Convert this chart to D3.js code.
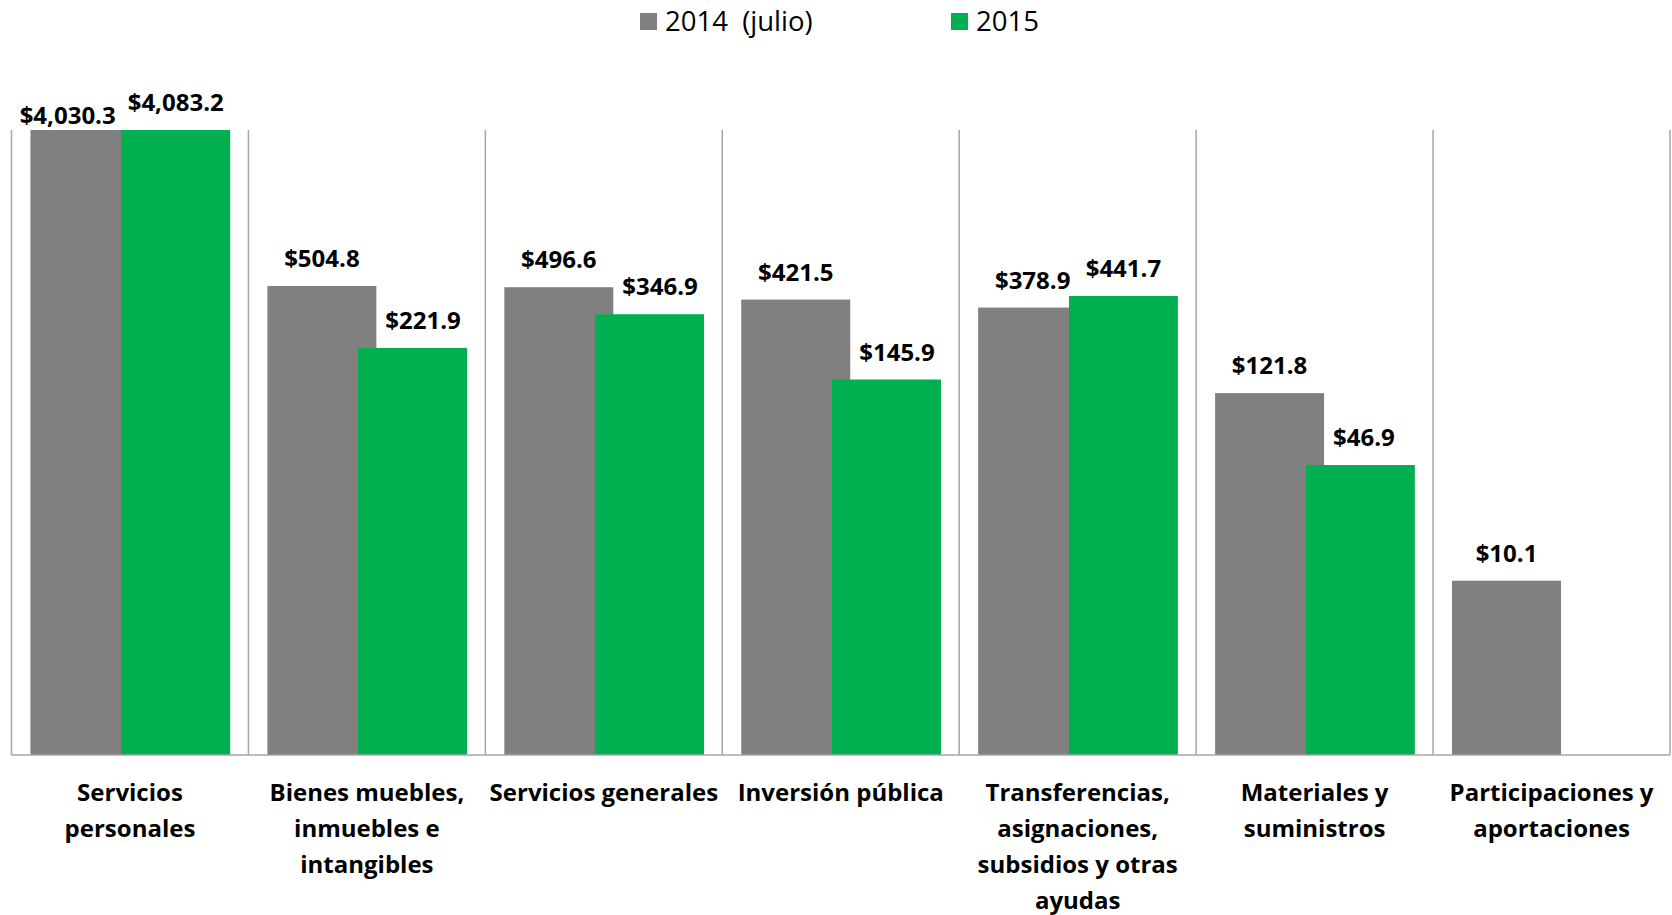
<!DOCTYPE html>
<html>
<head>
<meta charset="utf-8">
<script src="https://cdn.jsdelivr.net/npm/d3@7/dist/d3.min.js"></script>
<style>
  html, body { margin: 0; padding: 0; background: #fff; }
  svg { display: block; }
  text { font-family: "Open Sans", Lato, sans-serif; fill: #000; }
</style>
</head>
<body>
<div id="chart"></div>
<script>
// ── Data ──────────────────────────────────────────────────────────────
var categories = [
    'Servicios personales',
    'Bienes muebles, inmuebles e intangibles',
    'Servicios generales',
    'Inversión pública',
    'Transferencias, asignaciones, subsidios y otras ayudas',
    'Materiales y suministros',
    'Participaciones y aportaciones'
];
var categoryLines = [
    ['Servicios', 'personales'],
    ['Bienes muebles,', 'inmuebles e', 'intangibles'],
    ['Servicios generales'],
    ['Inversión pública'],
    ['Transferencias,', 'asignaciones,', 'subsidios y otras', 'ayudas'],
    ['Materiales y', 'suministros'],
    ['Participaciones y', 'aportaciones']
];
var seriesNames = ['2014  (julio)', '2015'];
var values2014 = [4030.3, 504.8, 496.6, 421.5, 378.9, 121.8, 10.1];
var values2015 = [4083.2, 221.9, 346.9, 145.9, 441.7, 46.9, null];
var seriesColors = ['#808080', '#00b050'];

// ── Layout ────────────────────────────────────────────────────────────
var width = 1672, height = 915;
var plot = { left: 11.5, right: 1670, top: 130, bottom: 755 };

var svg = d3.select('#chart').append('svg')
    .attr('width', width).attr('height', height);

var x = d3.scaleBand()
    .domain(categories)
    .range([plot.left, plot.right])
    .padding(0);

var y = d3.scaleLog()
    .domain([1, 4000])
    .range([plot.bottom, plot.top])
    .clamp(true);

var band = x.bandwidth();
var barW = band * 0.46;
var gapOut = band * 0.08;
var overlap = band * 0.077;

function barX(cat, s) {
    return x(cat) + gapOut + s * (barW - overlap);
}

// vertical gridlines between categories
var bounds = categories.map(function (c) { return x(c); }).concat([plot.right]);
svg.append('g').selectAll('line')
    .data(bounds)
    .enter().append('line')
    .attr('x1', function (d) { return d; }).attr('x2', function (d) { return d; })
    .attr('y1', plot.top).attr('y2', plot.bottom)
    .attr('stroke', '#a6a6a6').attr('stroke-width', 1.5);

// bars
var series = [values2014, values2015];
series.forEach(function (vals, s) {
    svg.append('g').selectAll('rect')
        .data(categories.map(function (c, i) { return { cat: c, v: vals[i] }; })
            .filter(function (d) { return d.v != null; }))
        .enter().append('rect')
        .attr('x', function (d) { return barX(d.cat, s); })
        .attr('y', function (d) { return y(d.v); })
        .attr('width', barW)
        .attr('height', function (d) { return plot.bottom - y(d.v); })
        .attr('fill', seriesColors[s]);
});

// bottom axis line
svg.append('line')
    .attr('x1', plot.left).attr('x2', plot.right)
    .attr('y1', plot.bottom).attr('y2', plot.bottom)
    .attr('stroke', '#a6a6a6').attr('stroke-width', 1.5);

// value labels
var fmt = d3.format(',.1f');
var labelG = svg.append('g')
    .style('font-size', '24px').style('font-weight', 700);

categories.forEach(function (c, i) {
    var v0 = values2014[i], v1 = values2015[i];
    var grayX = barX(c, 0), greenX = barX(c, 1);
    var t0 = labelG.append('text')
        .attr('text-anchor', 'start')
        .text('$' + fmt(v0));
    var w0 = t0.node().getComputedTextLength();
    var x0 = grayX + barW / 2 - w0 / 2, y0 = y(v0) - 19;
    var x1 = null, y1 = null, t1 = null, w1 = 0;
    if (v1 != null) {
        t1 = labelG.append('text').attr('text-anchor', 'start').text('$' + fmt(v1));
        w1 = t1.node().getComputedTextLength();
        x1 = greenX + barW / 2 - w1 / 2;
        y1 = y(v1) - 19;
        // keep green label clear of a taller gray bar
        if (y1 > y(v0) - 4) x1 = Math.max(x1, greenX + overlap + 9);
        // if both labels collide, push the gray one left and down
        if (Math.abs(y1 - y0) < 26 && x0 + w0 + 8 > x1) {
            x0 = x1 - w0 - 12;
            y0 = y0 + 13;
        }
        t1.attr('x', x1).attr('y', y1);
    }
    t0.attr('x', x0).attr('y', y0);
});

// category labels
var catG = svg.append('g')
    .style('font-size', '24px').style('font-weight', 700)
    .attr('text-anchor', 'middle');
categories.forEach(function (c, i) {
    var t = catG.append('text')
        .attr('x', x(c) + band / 2)
        .attr('y', 801);
    categoryLines[i].forEach(function (line, k) {
        t.append('tspan')
            .attr('x', x(c) + band / 2)
            .attr('y', 801 + k * 36)
            .text(line);
    });
});

// legend
var legendX = [640, 951];
var legend = svg.append('g').style('font-size', '27.5px');
seriesNames.forEach(function (name, s) {
    legend.append('rect')
        .attr('x', legendX[s]).attr('y', 13)
        .attr('width', 17).attr('height', 17)
        .attr('fill', seriesColors[s]);
    legend.append('text')
        .attr('x', legendX[s] + 25).attr('y', 31)
        .style('white-space', 'pre')
        .attr('xml:space', 'preserve')
        .text(name);
});
</script>
</body>
</html>
